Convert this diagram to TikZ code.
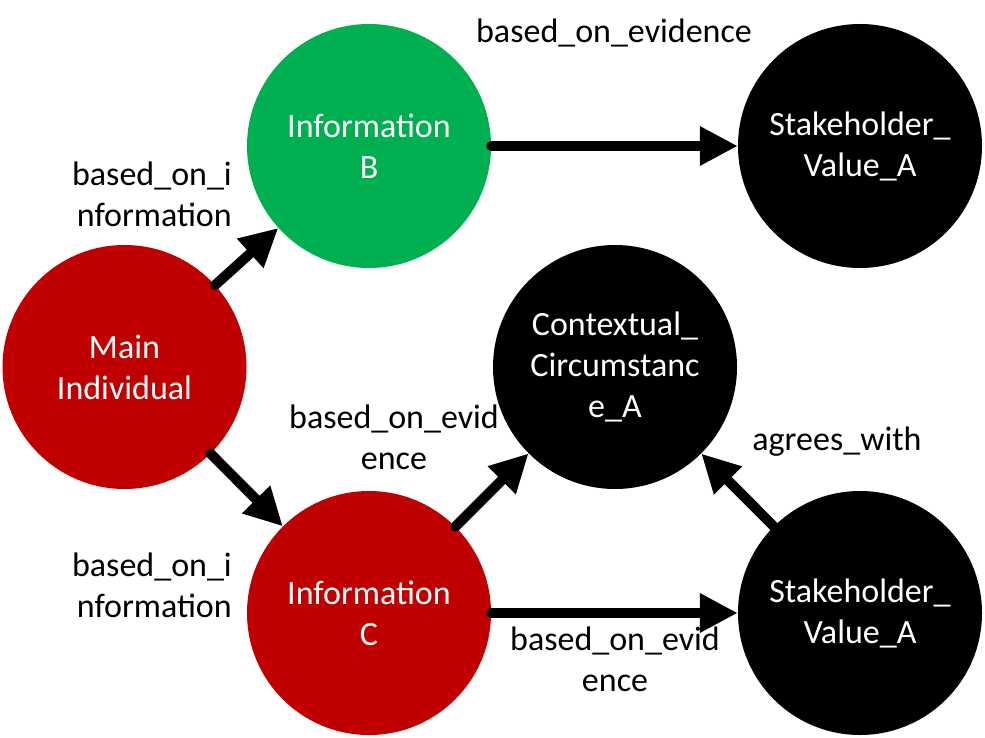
\documentclass[tikz,border=0pt]{standalone}
\usepackage{fontspec}
\setmainfont{Carlito}
\usetikzlibrary{arrows.meta}
\definecolor{entred}{HTML}{C00000}
\definecolor{entgreen}{HTML}{00B050}
\begin{document}
\begin{tikzpicture}[x=1pt,y=-1pt,
  ent/.style={circle, minimum size=244pt, inner sep=0pt, text=white, align=center, font=\fontsize{34}{41}\selectfont},
  lbl/.style={font=\fontsize{34}{41}\selectfont, text=black, inner sep=0pt},
  rel/.style={line width=10pt, line cap=round, -{Triangle[length=38pt,width=37pt]}}
]
\useasboundingbox (0,0) rectangle (985,738);
\node[ent, fill=entred]   (main) at (124.5,367) {Main\\Individual};
\node[ent, fill=entgreen] (infB) at (369,146) {Information\\B};
\node[ent, fill=black]    (sv1)  at (860,146) {Stakeholder\_\\Value\_A};
\node[ent, fill=black]    (ctx)  at (615,367) {Contextual\_\\Circumstanc\\e\_A};
\node[ent, fill=entred]   (infC) at (369,613) {Information\\C};
\node[ent, fill=black]    (sv2)  at (860,613) {Stakeholder\_\\Value\_A};

\draw[rel] (main) -- (infB);
\draw[rel] (main) -- (infC);
\draw[rel] (infB) -- (sv1);
\draw[rel] (infC) -- (ctx);
\draw[rel] (infC) -- (sv2);
\draw[rel] (sv2) -- (ctx);

\node[lbl, anchor=base] (l1) at (614,43) {based\_on\_evidence};
\node[lbl, anchor=south east, align=right] (l2) at (232,227) {based\_on\_i\\nformation};
\node[lbl, anchor=south east, align=right] (l3) at (232,618) {based\_on\_i\\nformation};
\node[lbl, anchor=south, align=center] (l4) at (394,470) {based\_on\_evid\\ence};
\node[lbl, anchor=base] (l5) at (837,450) {agrees\_with};
\node[lbl, anchor=south, align=center] (l6) at (615,692) {based\_on\_evid\\ence};
\end{tikzpicture}
\end{document}
